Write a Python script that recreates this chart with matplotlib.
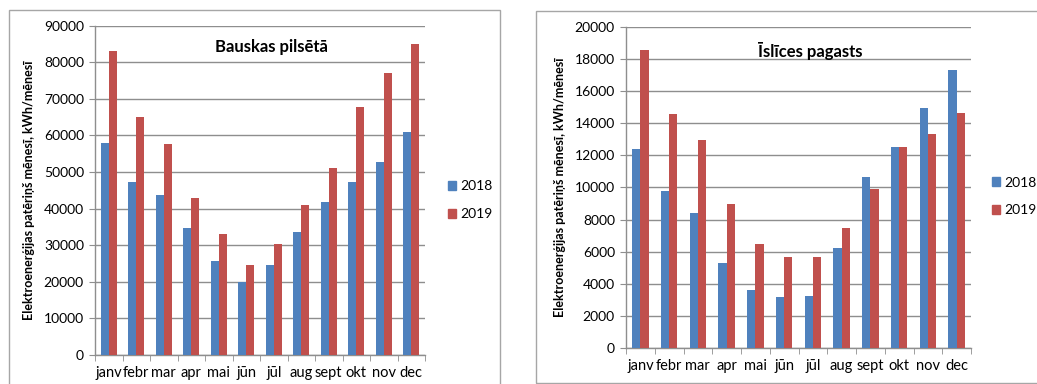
import matplotlib
matplotlib.use("Agg")
import matplotlib.pyplot as plt
import numpy as np
from matplotlib.patches import Rectangle, Patch

plt.rcParams['font.family'] = ['Lato', 'DejaVu Sans']

months = ["janv", "febr", "mar", "apr", "mai", "jūn", "jūl", "aug", "sept", "okt", "nov", "dec"]
years = ["2018", "2019"]

bauska_2018 = [58000, 47200, 43800, 34800, 25800, 20000, 24700, 33500, 41800, 47200, 52700, 61000]
bauska_2019 = [83000, 65000, 57700, 42800, 33200, 24700, 30300, 40900, 51000, 67800, 77000, 85000]

islice_2018 = [12400, 9800, 8400, 5300, 3600, 3150, 3250, 6200, 10650, 12550, 14950, 17300]
islice_2019 = [18550, 14600, 12950, 8950, 6500, 5700, 5700, 7500, 9880, 12500, 13350, 14650]

ylabel = "Elektroenerģijas patēriņš mēnesī, kWh/mēnesī"

BLUE = "#4F81BD"
RED = "#C0504D"
GRID = "#8E8E8E"

fig = plt.figure(figsize=(10.37, 3.84), dpi=100)

# panel frames
fig.patches.append(Rectangle((9 / 1037, -0.05), 491 / 1037, 1 - 10 / 384 + 0.05,
                             transform=fig.transFigure, fill=False,
                             edgecolor="#A6A6A6", lw=1.0))
fig.patches.append(Rectangle((536 / 1037, 1 - 383 / 384), 0.6, (383 - 11) / 384,
                             transform=fig.transFigure, fill=False,
                             edgecolor="#A6A6A6", lw=1.0))


def draw(ax, s18, s19, title, ymax, ystep, title_y, leg_anchor):
    x = np.arange(len(months))
    w = 0.29
    ax.bar(x - w / 2, s18, width=w, color=BLUE, label=years[0], zorder=3)
    ax.bar(x + w / 2, s19, width=w, color=RED, label=years[1], zorder=3)
    ax.set_xlim(-0.5, len(months) - 0.5)
    ax.set_ylim(0, ymax)
    ax.set_yticks(np.arange(0, ymax + 1, ystep))
    ax.set_yticklabels([f"{int(v)}" for v in np.arange(0, ymax + 1, ystep)])
    ax.yaxis.grid(True, color=GRID, lw=1.0, zorder=0)
    ax.set_axisbelow(True)
    ax.set_xticks(x)
    ax.set_xticklabels(months)
    ax.set_xticks(np.arange(-0.5, len(months)), minor=True)
    ax.tick_params(axis="x", which="major", length=0, labelsize=10.5, pad=8, colors="black")
    ax.tick_params(axis="x", which="minor", length=4, color=GRID, direction="out")
    ax.tick_params(axis="y", length=4, color=GRID, labelsize=10, pad=4)
    for s in ("top", "right"):
        ax.spines[s].set_visible(False)
    for s in ("left", "bottom"):
        ax.spines[s].set_color(GRID)
        ax.spines[s].set_linewidth(1.0)
    ax.set_ylabel(ylabel, fontsize=9, fontweight="bold", labelpad=6)
    ax.text(0.535, title_y, title, transform=ax.transAxes, ha="center", va="center",
            fontsize=12, fontweight="bold")
    handles = [Patch(color=BLUE, label=years[0]), Patch(color=RED, label=years[1])]
    ax.legend(handles=handles, loc="center left", bbox_to_anchor=leg_anchor,
              frameon=False, fontsize=10, handlelength=0.6, handleheight=0.6,
              handletextpad=0.3, labelspacing=1.15, borderaxespad=0, borderpad=0)


ax1 = fig.add_axes([95 / 1037, 1 - 355 / 384, 330 / 1037, (355 - 25.7) / 384])
draw(ax1, bauska_2018, bauska_2019, "Bauskas pilsētā", 90000, 10000, 0.935, (1.07, 0.47))

ax2 = fig.add_axes([626 / 1037, 1 - 348 / 384, 345 / 1037, (348 - 27) / 384])
draw(ax2, islice_2018, islice_2019, "Īslīces pagasts", 20000, 2000, 0.925, (1.06, 0.472))

fig.savefig("out.png", dpi=100, facecolor="white")
